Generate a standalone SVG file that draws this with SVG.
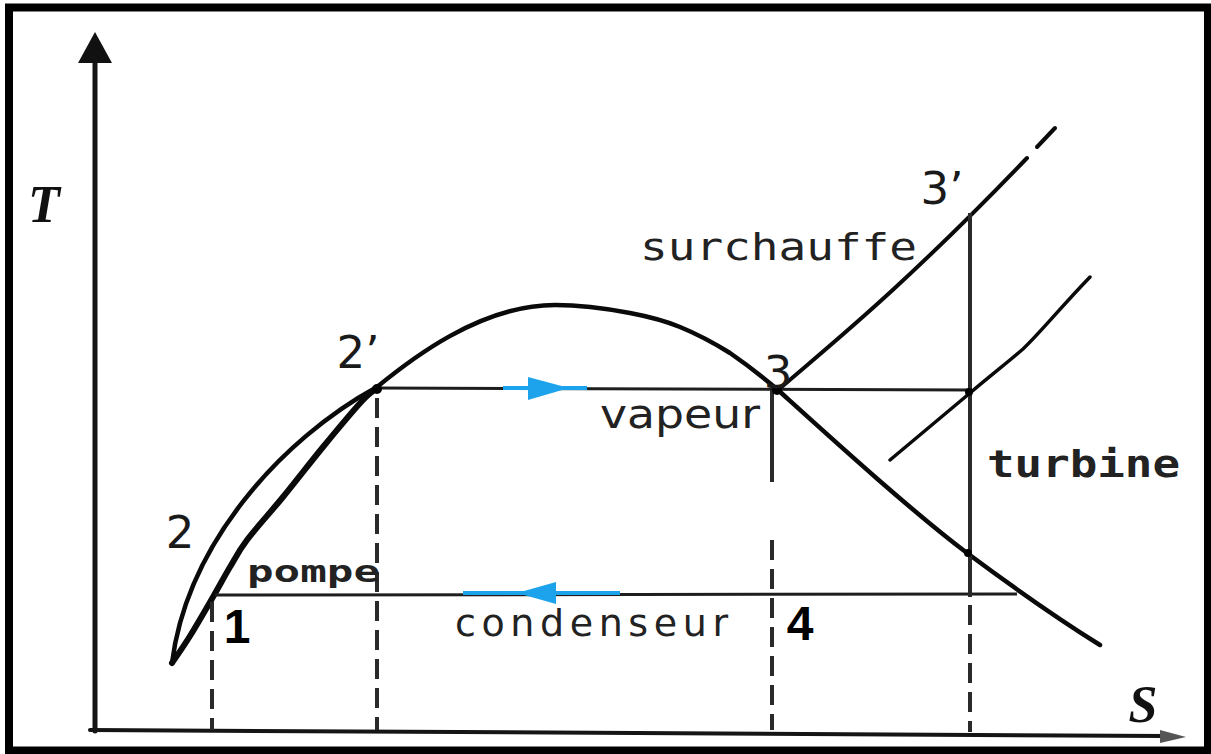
<svg xmlns="http://www.w3.org/2000/svg" width="1211" height="754" viewBox="0 0 1211 754">
  <defs>
    <style>
      .ax { stroke: #151515; fill: none; stroke-linecap: round; }
      .crv { stroke: #0a0a0a; fill: none; stroke-linecap: round; stroke-linejoin: round; }
      .hl { stroke: #1e1e1e; stroke-width: 3; fill: none; }
      .vl { stroke: #2a2a2a; stroke-width: 4; fill: none; }
      .dash { stroke-dasharray: 20 9; }
      .blue { stroke: #1ca3ec; stroke-width: 4; fill: none; }
      .bluef { fill: #1ca3ec; }
      .num { font-family: "DejaVu Sans", sans-serif; font-size: 45px; fill: #1a1a1a; }
      .bnum { font-family: "Liberation Sans", Arial, sans-serif; font-weight: bold; font-size: 48px; fill: #000; }
      .mono { font-family: "DejaVu Sans Mono", "Liberation Mono", monospace; fill: #222; }
      .sans { font-family: "DejaVu Sans", sans-serif; fill: #222; }
      .ital { font-family: "Liberation Serif", "Times New Roman", serif; font-style: italic; font-weight: bold; font-size: 52px; fill: #111; }
    </style>
  </defs>
  <rect x="0" y="0" width="1211" height="754" fill="#ffffff"/>
  <rect id="frame" x="9" y="7.5" width="1199" height="743" fill="none" stroke="#000" stroke-width="8"/>

  <g id="axes">
    <line class="ax" x1="95" y1="55" x2="95" y2="731" stroke-width="5"/>
    <polygon points="95,32 78,63 112,63" fill="#111"/>
    <line class="ax" x1="90" y1="730" x2="1165" y2="736" stroke-width="4"/>
    <polygon points="1186,737 1160,730 1160,743" fill="#555"/>
    <text id="T" class="ital" x="44" y="222" text-anchor="middle">T</text>
    <text id="S" class="ital" x="1143" y="722" text-anchor="middle">S</text>
  </g>

  <g id="dome">
    <path class="crv" stroke-width="4.5" d="M172,663 C187,545 280,440 377,387 C410,360 480,305 555,305 C577,305 609,309 630,313 C651,317 663,320 680,327 C697,334 714,343 730,353 C746,364 758,373 778,390 C830,437 910,510 967,553 C1010,585 1060,620 1100,645"/>
  </g>

  <g id="heating">
    <path class="crv" stroke-width="6" d="M172,663 C175,658.5 183.2,647 190,636 C196.8,625 206.3,608.5 213,597 C219.7,585.5 224.3,576.5 230,567 C235.7,557.5 238.2,551.7 247,540 C255.8,528.3 270.3,512.5 283,497 C295.7,481.5 309.7,463.2 323,447 C336.3,430.8 353.8,409.8 363,400 C372.2,390.2 375.5,390 378,388"/>
  </g>

  <g id="superheat">
    <path class="crv" stroke-width="4" d="M778,390 C830,345 900,290 1027,158"/>
    <line class="crv" stroke-width="4" x1="1037" y1="147" x2="1055" y2="128"/>
  </g>

  <g id="isobar">
    <path class="crv" stroke-width="3.5" d="M890,460 C920,435 950,410 970,393 C995,372 1008,362 1023,349 C1040,333 1060,308 1090,277"/>
  </g>

  <g id="connectors">
    <line class="hl" x1="377" y1="388" x2="970" y2="390"/>
    <line class="hl" x1="215" y1="595" x2="1017" y2="594"/>
    <line class="blue" x1="503" y1="388" x2="587" y2="388"/>
    <polygon class="bluef" points="528,377 569,388 528,400"/>
    <line class="blue" x1="463" y1="593" x2="620" y2="593"/>
    <polygon class="bluef" points="556,582 517,593 556,604"/>
    <line class="vl dash" x1="212" y1="602" x2="212" y2="730"/>
    <line class="vl dash" x1="377" y1="398" x2="377" y2="730"/>
    <line class="vl" x1="772" y1="390" x2="772" y2="482"/>
    <line class="vl dash" x1="772" y1="540" x2="772" y2="730"/>
    <line class="vl" x1="970" y1="213" x2="970" y2="597"/>
    <line class="vl dash" x1="970" y1="605" x2="970" y2="732"/>
  </g>

  <g id="points">
    <circle cx="377" cy="389" r="5" fill="#000"/>
    <circle cx="777" cy="390" r="5" fill="#000"/>
    <circle cx="969" cy="392" r="4" fill="#000"/>
    <circle cx="968" cy="553" r="4" fill="#000"/>
  </g>

  <g id="labels">
    <text class="num" x="180" y="548" text-anchor="middle">2</text>
    <text class="num" x="358" y="368" text-anchor="middle">2’</text>
    <text class="num" x="778" y="388" text-anchor="middle">3</text>
    <text class="num" x="942" y="204" text-anchor="middle">3’</text>
    <text class="bnum" x="237" y="643" text-anchor="middle">1</text>
    <text class="bnum" x="800" y="640" text-anchor="middle">4</text>
    <text class="mono" x="640" y="260" font-size="38" textLength="277" lengthAdjust="spacingAndGlyphs">surchauffe</text>
    <text class="mono" x="987" y="477" font-size="38" font-weight="bold" textLength="193" lengthAdjust="spacingAndGlyphs">turbine</text>
    <text class="sans" x="600" y="428" font-size="40" textLength="160" lengthAdjust="spacingAndGlyphs">vapeur</text>
    <text class="sans" x="455" y="636" font-size="38" textLength="273" lengthAdjust="spacing">condenseur</text>
    <text class="mono" x="247" y="582" font-size="31" font-weight="bold" textLength="133" lengthAdjust="spacingAndGlyphs">pompe</text>
  </g>
</svg>
